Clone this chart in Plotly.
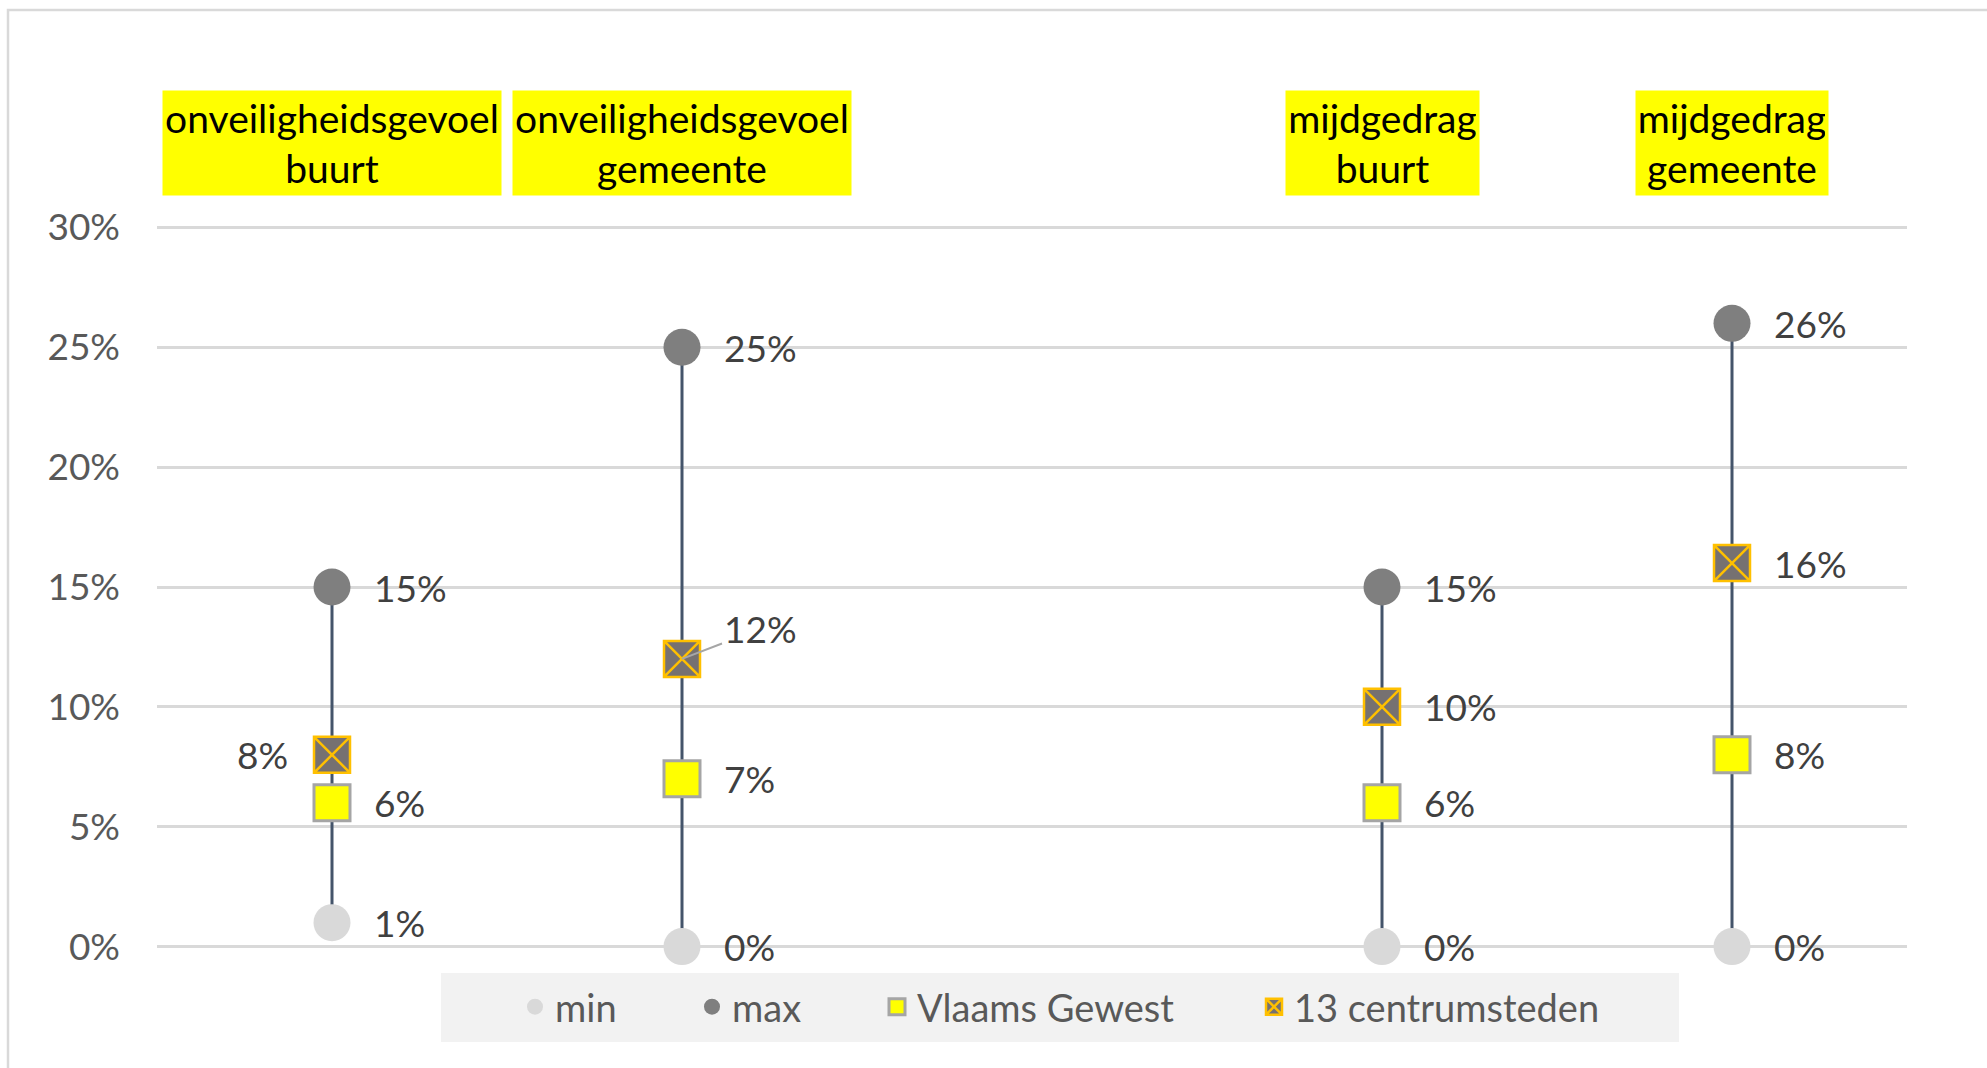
import plotly.graph_objects as go

# Data (percentages); third slot is an empty gap on the x axis
categories = ["onveiligheidsgevoel<br>buurt", "onveiligheidsgevoel<br>gemeente", "",
              "mijdgedrag<br>buurt", "mijdgedrag<br>gemeente"]
min_vals = [1, 0, None, 0, 0]
max_vals = [15, 25, None, 15, 26]
vlaams_vals = [6, 7, None, 6, 8]
centrum_vals = [8, 12, None, 10, 16]
y_ticks = [0, 5, 10, 15, 20, 25, 30]

FONT = "Lato, 'Open Sans', sans-serif"
W, H = 1987, 1068
ML, MR, MT, MB = 157, 80, 225, 119
PW, PH = W - ML - MR, H - MT - MB


def px_x(px):
    return (px - ML) / PW


def px_y(py):
    return (H - MB - py) / PH


xs = list(range(len(categories)))
fig = go.Figure()

# vertical min-max lines
line_x, line_y = [], []
for i, (lo, hi) in enumerate(zip(min_vals, max_vals)):
    if lo is None:
        continue
    line_x += [i, i, None]
    line_y += [lo, hi, None]
fig.add_trace(go.Scatter(x=line_x, y=line_y, mode="lines",
                         line=dict(color="#44546a", width=3),
                         showlegend=False, hoverinfo="skip"))


def pts(vals):
    return [i for i, v in zip(xs, vals) if v is not None], [v for v in vals if v is not None]


series = [
    ("min", min_vals, dict(symbol="circle", size=37, color="#d9d9d9", line=dict(width=0)), "legend"),
    ("max", max_vals, dict(symbol="circle", size=37, color="#7f7f7f", line=dict(width=0)), "legend2"),
    ("Vlaams Gewest", vlaams_vals,
     dict(symbol="square", size=36, color="#ffff00", line=dict(color="#a5a5a5", width=3)), "legend3"),
    ("13 centrumsteden", centrum_vals,
     dict(symbol="square-x", size=36, color="#767171", line=dict(color="#ffc000", width=2.5)), "legend4"),
]
for name, vals, marker, lg in series:
    x, y = pts(vals)
    fig.add_trace(go.Scatter(x=x, y=y, mode="markers", name=name, marker=marker,
                             legend=lg, cliponaxis=False,
                             hovertemplate="%{y}%<extra>" + name + "</extra>"))

# data labels
label_font = dict(family=FONT, size=37, color="#404040")
annotations = []
for name, vals, marker, lg in series:
    for i, v in zip(xs, vals):
        if v is None:
            continue
        if name == "13 centrumsteden" and i == 0:
            annotations.append(dict(x=i, y=v, text=f"{v}%", showarrow=False,
                                    xanchor="right", xshift=-42, font=label_font))
        elif name == "13 centrumsteden" and i == 1:
            annotations.append(dict(x=i, y=v, text=f"{v}%", showarrow=True,
                                    ax=78, ay=-30, arrowhead=0, arrowwidth=2,
                                    arrowcolor="#a6a6a6", font=label_font))
        else:
            annotations.append(dict(x=i, y=v, text=f"{v}%", showarrow=False,
                                    xanchor="left", xshift=40, font=label_font))

# category headers in yellow boxes
box_widths = [332, 332, 0, 187, 186]
for i, cat in enumerate(categories):
    if not cat:
        continue
    annotations.append(dict(x=i, xref="x", y=px_y(143), yref="paper", text=cat,
                            showarrow=False, yanchor="middle", align="center",
                            bgcolor="#ffff00", borderpad=3, width=box_widths[i], height=98,
                            font=dict(family=FONT, size=39, color="#000000")))

legend_style = dict(orientation="h", yanchor="middle", xanchor="left", y=px_y(1007),
                    bgcolor="rgba(0,0,0,0)", font=dict(family=FONT, size=38, color="#595959"))

fig.update_layout(
    width=W, height=H,
    margin=dict(l=ML, r=MR, t=MT, b=MB),
    paper_bgcolor="white", plot_bgcolor="white",
    xaxis=dict(range=[-0.5, len(categories) - 0.5], showgrid=False, zeroline=False,
               showticklabels=False, fixedrange=True),
    yaxis=dict(range=[-0.1, 30.1], tickvals=y_ticks, ticktext=[f"{t}%" for t in y_ticks],
               showgrid=True, gridcolor="#d9d9d9", gridwidth=2.5, zeroline=False, showline=False,
               ticklabelstandoff=36, tickfont=dict(family=FONT, size=37, color="#595959"),
               fixedrange=True),
    legend=dict(x=px_x(515), **legend_style),
    legend2=dict(x=px_x(692), **legend_style),
    legend3=dict(x=px_x(877), **legend_style),
    legend4=dict(x=px_x(1254), **legend_style),
    annotations=annotations,
    shapes=[
        dict(type="rect", xref="paper", yref="paper", layer="below",
             x0=px_x(441), x1=px_x(1679), y0=px_y(1042), y1=px_y(973),
             fillcolor="#f2f2f2", line=dict(width=0)),
        dict(type="rect", xref="paper", yref="paper", layer="below",
             x0=px_x(8), x1=px_x(2000), y0=px_y(1080), y1=px_y(10),
             fillcolor="rgba(0,0,0,0)", line=dict(color="#d9d9d9", width=2.5)),
    ],
)

fig.write_html("out.html", config={"displayModeBar": False},
               post_script="document.body.style.margin='0';")
